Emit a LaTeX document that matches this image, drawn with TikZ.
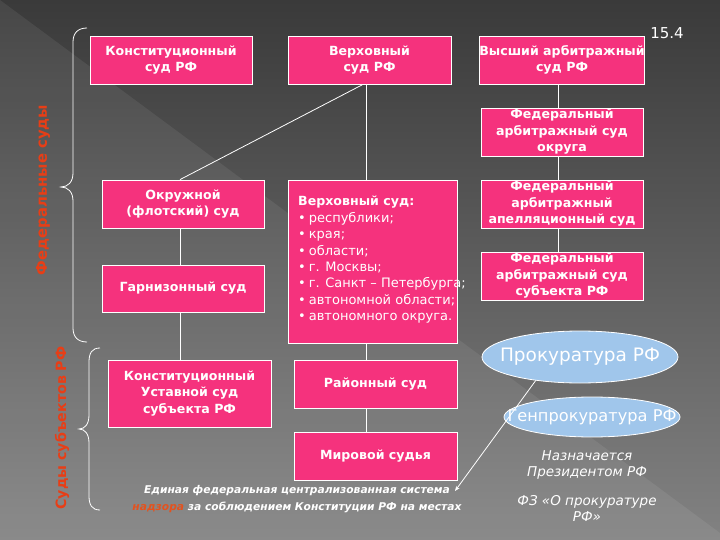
\documentclass[tikz,border=0pt]{standalone}
\usepackage{fontspec}
\setmainfont{DejaVu Sans}
\usetikzlibrary{shapes.geometric,arrows.meta}
\definecolor{pinkc}{RGB}{245,50,125}
\definecolor{bluec}{RGB}{160,198,235}
\definecolor{redc}{RGB}{232,62,22}
\definecolor{orangec}{RGB}{228,82,30}
\definecolor{bgtop}{RGB}{58,58,58}
\definecolor{bgbot}{RGB}{130,130,130}
\begin{document}
\begin{tikzpicture}[x=1pt,y=-1pt,
  court/.style={draw=white, line width=0.8pt, fill=pinkc, text=white,
    font=\bfseries\fontsize{12.6}{16.5}\selectfont, align=center, inner sep=0pt},
  oval/.style={ellipse, draw=white, line width=0.8pt, fill=bluec, text=white, inner sep=0pt},
  link/.style={draw=white, line width=0.8pt},
  brace/.style={draw=white, line width=0.8pt},
  side/.style={text=redc, rotate=90},
  note/.style={text=white, font=\itshape\fontsize{13.5}{16.5}\selectfont, align=center}
]
\useasboundingbox (0,0) rectangle (720,540);
\shade[top color=bgtop, bottom color=bgbot] (0,0) rectangle (720,540);
\fill[white, opacity=0.07] (0,0) -- (720,533) -- (720,540) -- (0,540) -- cycle;

% column coordinates
\coordinate (vx) at (366,0);
\coordinate (vy) at (180,0);
\coordinate (vz) at (558,0);

% federal courts
\node[court, minimum width=162pt, minimum height=48pt] (b1) at (171,60) {Конституционный\\суд РФ};
\node[court, minimum width=163pt, minimum height=48pt] (b2) at (369.5,60) {Верховный\\суд РФ};
\node[court, minimum width=162pt, minimum height=48pt] (b3) at (562,60) {Высший арбитражный\\суд РФ};
\node[court, minimum width=162pt, minimum height=48pt] (b4) at (562,132) {Федеральный\\арбитражный суд\\округа};
\node[court, minimum width=162pt, minimum height=48pt] (b5) at (562,204) {Федеральный\\арбитражный\\апелляционный суд};
\node[court, minimum width=162pt, minimum height=48pt] (b6) at (562,276) {Федеральный\\арбитражный суд\\субъекта РФ};
\node[court, minimum width=162pt, minimum height=48pt] (b7) at (183,204) {Окружной\\(флотский) суд};
\node[court, minimum width=162pt, minimum height=47pt] (b8) at (183,288.5) {Гарнизонный суд};
\node[court, minimum width=169pt, minimum height=163pt] (list) at (372.5,261.5) {};
\node[anchor=north west, text=white, inner sep=0pt, align=left,
      font=\fontsize{13}{16.4}\selectfont] (listtext) at (298,196)
  {{\bfseries\fontsize{12.6}{16.4}\selectfont Верховный суд:}\\
   •\hspace{3pt}республики;\\
   •\hspace{3pt}края;\\
   •\hspace{3pt}области;\\
   •\hspace{3pt}г. Москвы;\\
   •\hspace{3pt}г. Санкт – Петербурга;\\
   •\hspace{3pt}автономной области;\\
   •\hspace{3pt}автономного округа.};

% courts of subjects
\node[court, minimum width=163pt, minimum height=67pt] (b10) at (189.5,393.5) {Конституционный\\Уставной суд\\субъекта РФ};
\node[court, minimum width=163pt, minimum height=48pt] (b11) at (375.5,384) {Районный суд};
\node[court, minimum width=163pt, minimum height=48pt] (b12) at (375.5,456) {Мировой судья};

% connectors
\draw[link] (b2.south -| vx) -- (list.north -| vx);
\draw[link] (list.south -| vx) -- (b11.north -| vx);
\draw[link] (b11.south -| vx) -- (b12.north -| vx);
\draw[link] (b2.south -| 363,0) -- (b7.north -| vy);
\draw[link] (b7.south -| vy) -- (b8.north -| vy);
\draw[link] (b8.south -| vy) -- (b10.north -| vy);
\draw[link] (b3.south -| vz) -- (b4.north -| vz);
\draw[link] (b4.south -| vz) -- (b5.north -| vz);
\draw[link] (b5.south -| vz) -- (b6.north -| vz);

% prosecution
\node[oval, minimum width=196pt, minimum height=52pt, font=\fontsize{18.5}{20}\selectfont] (e1) at (580,357) {\makebox[0pt]{Прокуратура РФ}};
\node[oval, minimum width=176pt, minimum height=40pt, font=\fontsize{16.2}{18}\selectfont] (e2) at (592,417) {\makebox[0pt]{Генпрокуратура РФ}};
\node[note] (n1) at (587,465) {Назначается\\Президентом РФ};
\node[note] (n2) at (587,508.5) {ФЗ «О прокуратуре\\РФ»};

% bottom text
\node[text=white, align=center, inner sep=0pt,
      font=\bfseries\itshape\fontsize{10.7}{17}\selectfont] (bt) at (297,499.5)
  {Единая федеральная централизованная система\\{\color{orangec}надзора} за соблюдением Конституции РФ на местах};
\coordinate (tip) at (455,491);
\draw[link, -{Stealth[length=5pt,width=4pt]}] (e1.208) -- (tip);

% page number
\node[text=white, font=\fontsize{15}{16}\selectfont, inner sep=0pt] (num) at (667,33) {15.4};

% braces and side labels
\draw[brace] (87,28) .. controls (78,28) and (73,33) .. (73,42) -- (73,173)
  .. controls (73,182) and (68,187) .. (61,187)
  .. controls (68,187) and (73,192) .. (73,201) -- (73,328)
  .. controls (73,337) and (78,342) .. (87,342);
\draw[brace] (100,348) .. controls (92,348) and (89,353) .. (89,362) -- (89,415)
  .. controls (89,424) and (85,429) .. (79,429)
  .. controls (85,429) and (89,434) .. (89,443) -- (89,496)
  .. controls (89,505) and (92,510) .. (100,510);
\node[side, font=\bfseries\fontsize{14.8}{16}\selectfont] (lab1) at (43,190) {Федеральные суды};
\node[side, font=\bfseries\fontsize{14.2}{16}\selectfont] (lab2) at (62,428) {Суды субъектов РФ};
\end{tikzpicture}
\end{document}
